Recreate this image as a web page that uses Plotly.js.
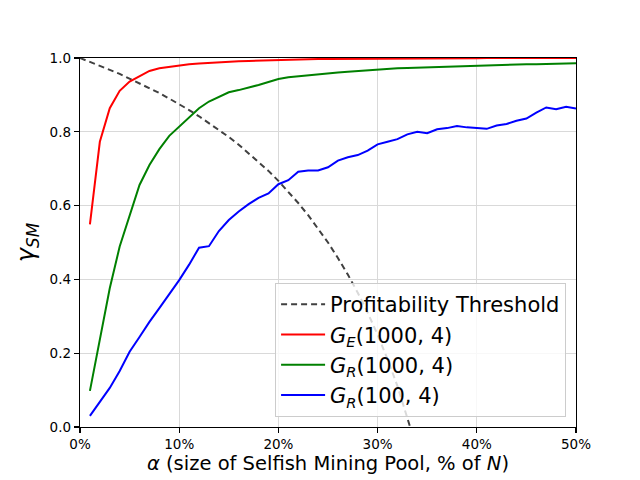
<!DOCTYPE html>
<html>
<head>
<meta charset="utf-8">
<script src="https://cdn.plot.ly/plotly-3.0.1.min.js"></script>
<style>
  html, body { margin: 0; padding: 0; background: #fff; }
  #plot { width: 640px; height: 480px; }
</style>
</head>
<body>
<div id="plot"></div>
<script>
// pool size alpha, 1% .. 50%
const alpha = [0.01, 0.02, 0.03, 0.04, 0.05, 0.06, 0.07, 0.08, 0.09, 0.10,
               0.11, 0.12, 0.13, 0.14, 0.15, 0.16, 0.17, 0.18, 0.19, 0.20,
               0.21, 0.22, 0.23, 0.24, 0.25, 0.26, 0.27, 0.28, 0.29, 0.30,
               0.31, 0.32, 0.33, 0.34, 0.35, 0.36, 0.37, 0.38, 0.39, 0.40,
               0.41, 0.42, 0.43, 0.44, 0.45, 0.46, 0.47, 0.48, 0.49, 0.50];

const gE1000 = [0.549, 0.773, 0.864, 0.911, 0.936, 0.951, 0.965, 0.972, 0.976, 0.980,
                0.983, 0.985, 0.987, 0.988, 0.990, 0.991, 0.992, 0.993, 0.994, 0.995,
                0.995, 0.996, 0.996, 0.997, 0.997, 0.997, 0.998, 0.998, 0.998, 0.998,
                0.999, 0.999, 0.999, 0.999, 0.999, 0.999, 0.999, 0.999, 0.999, 0.999,
                1.000, 1.000, 1.000, 1.000, 1.000, 1.000, 1.000, 1.000, 1.000, 1.000];

const gR1000 = [0.098, 0.240, 0.376, 0.489, 0.572, 0.656, 0.710, 0.753, 0.789, 0.814,
                0.841, 0.864, 0.882, 0.895, 0.907, 0.913, 0.919, 0.927, 0.935, 0.943,
                0.948, 0.951, 0.953, 0.955, 0.958, 0.961, 0.963, 0.965, 0.967, 0.970,
                0.971, 0.972, 0.973, 0.974, 0.975, 0.976, 0.977, 0.978, 0.979, 0.980,
                0.981, 0.981, 0.982, 0.982, 0.983, 0.983, 0.984, 0.984, 0.985, 0.986];

const gR100 = [0.030, 0.068, 0.106, 0.152, 0.204, 0.244, 0.285, 0.322, 0.360, 0.398,
               0.440, 0.486, 0.490, 0.531, 0.561, 0.584, 0.604, 0.621, 0.633, 0.658,
               0.669, 0.692, 0.695, 0.695, 0.704, 0.722, 0.731, 0.737, 0.749, 0.766,
               0.773, 0.780, 0.793, 0.800, 0.796, 0.807, 0.810, 0.816, 0.812, 0.811,
               0.808, 0.817, 0.821, 0.830, 0.836, 0.852, 0.866, 0.861, 0.868, 0.863];

// profitability threshold
const thrAlpha = [0, 0.01, 0.02, 0.03, 0.04, 0.05, 0.06, 0.07, 0.08, 0.09, 0.10,
                  0.11, 0.12, 0.13, 0.14, 0.15, 0.16, 0.17, 0.18, 0.19, 0.20,
                  0.21, 0.22, 0.23, 0.24, 0.25, 0.26, 0.27, 0.28, 0.29, 0.30,
                  0.31, 0.32, 0.33, 0.34];
const thrGamma = [1.000, 0.990, 0.979, 0.968, 0.957, 0.944, 0.932, 0.919, 0.905, 0.890, 0.875,
                  0.859, 0.842, 0.824, 0.806, 0.786, 0.765, 0.742, 0.719, 0.694, 0.667,
                  0.638, 0.607, 0.574, 0.538, 0.500, 0.458, 0.413, 0.364, 0.310, 0.250,
                  0.184, 0.111, 0.029, -0.063];

const xTicks = [0, 0.1, 0.2, 0.3, 0.4, 0.5];
const xTickText = ['0%', '10%', '20%', '30%', '40%', '50%'];

const font = 'DejaVu Sans, sans-serif';

const traces = [
    {
        x: thrAlpha, y: thrGamma, type: 'scatter', mode: 'lines',
        name: 'Profitability Threshold',
        line: { color: '#404040', width: 2, dash: '6px,4px' }
    },
    {
        x: alpha, y: gE1000, type: 'scatter', mode: 'lines',
        name: '<i>G</i><sub><i>E</i></sub>(1000, 4)',
        line: { color: '#ff0000', width: 2 }
    },
    {
        x: alpha, y: gR1000, type: 'scatter', mode: 'lines',
        name: '<i>G</i><sub><i>R</i></sub>(1000, 4)',
        line: { color: '#008000', width: 2 }
    },
    {
        x: alpha, y: gR100, type: 'scatter', mode: 'lines',
        name: '<i>G</i><sub><i>R</i></sub>(100, 4)',
        line: { color: '#0000ff', width: 2 }
    }
];

const axisCommon = {
    showline: true, mirror: true, linecolor: '#000', linewidth: 1.2,
    ticks: 'outside', ticklen: 5, tickwidth: 1.2, tickcolor: '#000',
    showgrid: true, gridcolor: '#d9d9d9', gridwidth: 1,
    zeroline: false,
    tickfont: { family: font, size: 13.5, color: '#000' }
};

const layout = {
    width: 640, height: 480,
    margin: { l: 80, r: 64, t: 58, b: 53 },
    paper_bgcolor: '#fff', plot_bgcolor: '#fff',
    font: { family: font, color: '#000' },
    showlegend: true,
    xaxis: Object.assign({}, axisCommon, {
        range: [0, 0.5],
        tickvals: xTicks, ticktext: xTickText,
        title: { text: '<i>α</i> (size of Selfish Mining Pool, % of <i>N</i>)',
                 font: { family: font, size: 19.5 }, standoff: 5 }
    }),
    yaxis: Object.assign({}, axisCommon, {
        range: [0, 1], dtick: 0.2, tickformat: '.1f',
        title: { text: '<i>γ</i><sub><i>SM</i></sub>',
                 font: { family: font, size: 24 }, standoff: 8 }
    }),
    legend: {
        x: 0.98, y: 0.027, xanchor: 'right', yanchor: 'bottom',
        bgcolor: 'rgba(255,255,255,0.8)', bordercolor: '#cccccc', borderwidth: 1,
        itemwidth: 44,
        font: { family: font, size: 21, color: '#000' }
    }
};

Plotly.newPlot('plot', traces, layout, { displayModeBar: false, staticPlot: true });
</script>
</body>
</html>
